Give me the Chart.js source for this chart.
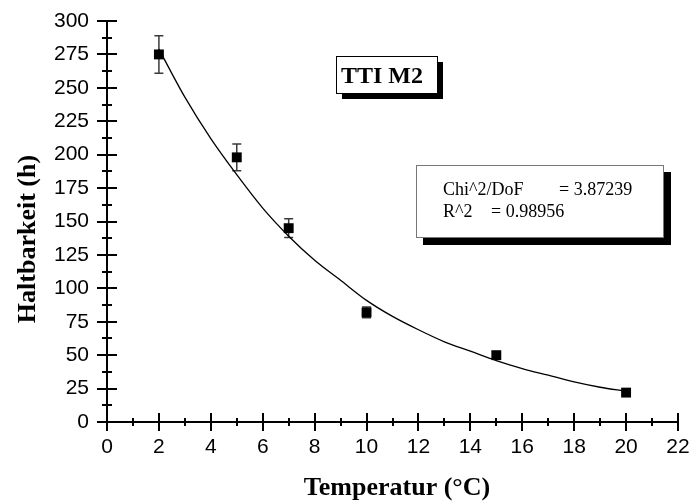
<!DOCTYPE html>
<html>
<head>
<meta charset="utf-8">
<script src="https://cdn.jsdelivr.net/npm/chart.js@4/dist/chart.umd.min.js"></script>
<style>
  html, body { margin: 0; padding: 0; background: #fff; }
  #wrap { width: 693px; height: 504px; }
</style>
</head>
<body>
<div id="wrap"><canvas id="tti_chart" width="693" height="504"></canvas></div>
<script>
// Messwerte
var temps = [2, 5, 7, 10, 15, 20];
var haltbarkeit = [275, 198, 145, 82, 50, 22];
var fehler = [14, 10, 7, 4, 2.5, 1.5];

// Fitkurve
var fitX = [2, 3, 4, 5, 6, 7, 8, 9, 10, 11, 12, 13, 14, 15, 16, 17, 18, 19, 20];
var fitY = [279, 243, 212, 185, 160, 139, 121, 106, 91, 79, 69, 60, 53, 46, 40, 35, 30, 26, 23];

var xTicks = [0, 2, 4, 6, 8, 10, 12, 14, 16, 18, 20, 22];
var yTicks = [0, 25, 50, 75, 100, 125, 150, 175, 200, 225, 250, 275, 300];

var titel = 'TTI M2';
var statZeilen = [['Chi^2/DoF', '= 3.87239'], ['R^2', '= 0.98956']];

var SANS = "'Liberation Sans', Arial, sans-serif";
var SERIF = "'Liberation Serif', 'Times New Roman', serif";

var punkte = temps.map(function(t, i) { return { x: t, y: haltbarkeit[i] }; });
var kurve = fitX.map(function(t, i) { return { x: t, y: fitY[i] }; });

// Fehlerbalken hinter den Punkten
var errorBars = {
    id: 'errorBars',
    beforeDatasetsDraw: function(chart) {
        var ctx = chart.ctx, xs = chart.scales.x, ys = chart.scales.y;
        ctx.save();
        ctx.strokeStyle = '#3a3a3a';
        ctx.lineWidth = 1.5;
        temps.forEach(function(t, i) {
            var px = xs.getPixelForValue(t);
            var top = ys.getPixelForValue(haltbarkeit[i] + fehler[i]);
            var bot = ys.getPixelForValue(haltbarkeit[i] - fehler[i]);
            ctx.beginPath();
            ctx.moveTo(px, top); ctx.lineTo(px, bot);
            ctx.moveTo(px - 4.5, top); ctx.lineTo(px + 4.5, top);
            ctx.moveTo(px - 4.5, bot); ctx.lineTo(px + 4.5, bot);
            ctx.stroke();
        });
        ctx.restore();
    }
};

// Achsenstriche, Achsentitel, Textboxen
var deko = {
    id: 'deko',
    afterDraw: function(chart) {
        var ctx = chart.ctx, xs = chart.scales.x, ys = chart.scales.y;
        var ax = xs.left, ay = ys.bottom;
        ctx.save();
        ctx.strokeStyle = '#000';
        ctx.lineWidth = 2;
        ctx.beginPath();
        for (var v = 0; v <= 300; v += 12.5) {
            var py = Math.round(ys.getPixelForValue(v));
            var len = (v % 25 === 0) ? 10 : 5;
            ctx.moveTo(ax - len, py); ctx.lineTo(ax + len, py);
        }
        for (var t = 0; t <= 22; t += 1) {
            var px = Math.round(xs.getPixelForValue(t));
            var l2 = (t % 2 === 0) ? 9 : 4;
            ctx.moveTo(px, ay - l2); ctx.lineTo(px, ay + l2);
        }
        ctx.stroke();

        // Achsentitel
        ctx.fillStyle = '#000';
        ctx.font = 'bold 26px ' + SERIF;
        ctx.textAlign = 'center';
        ctx.textBaseline = 'alphabetic';
        ctx.fillText('Temperatur (°C)', 397, 495);
        ctx.save();
        ctx.translate(35, 239);
        ctx.rotate(-Math.PI / 2);
        ctx.fillText('Haltbarkeit (h)', 0, 0);
        ctx.restore();

        // Titelbox mit Schatten
        ctx.fillStyle = '#000';
        ctx.fillRect(342, 62, 101, 37);
        ctx.fillStyle = '#fff';
        ctx.fillRect(336, 56, 101, 37);
        ctx.lineWidth = 1;
        ctx.strokeStyle = '#000';
        ctx.strokeRect(336.5, 56.5, 101, 37);
        ctx.fillStyle = '#000';
        ctx.font = 'bold 24px ' + SERIF;
        ctx.textAlign = 'left';
        ctx.fillText(titel, 341, 83);

        // Statistikbox
        ctx.fillStyle = '#000';
        ctx.fillRect(423, 172, 248, 73);
        ctx.fillStyle = '#fff';
        ctx.fillRect(416, 165, 248, 73);
        ctx.strokeStyle = '#777';
        ctx.strokeRect(416.5, 165.5, 247, 72);
        ctx.fillStyle = '#000';
        ctx.font = '18px ' + SERIF;
        ctx.fillText(statZeilen[0][0], 443, 195);
        ctx.fillText(statZeilen[0][1], 559, 195);
        ctx.fillText(statZeilen[1][0], 443, 217);
        ctx.fillText(statZeilen[1][1], 491, 217);
        ctx.restore();
    }
};

document.addEventListener("DOMContentLoaded", function() {
    var ctx = document.getElementById('tti_chart').getContext('2d');

    new Chart(ctx, {
        type: 'scatter',
        data: {
            datasets: [{
                label: 'Fit',
                data: kurve,
                showLine: true,
                borderColor: '#000',
                borderWidth: 1.3,
                pointRadius: 0,
                cubicInterpolationMode: 'monotone',
                fill: false
            }, {
                label: 'Haltbarkeit',
                data: punkte,
                showLine: false,
                pointStyle: 'rect',
                pointRadius: 7,
                backgroundColor: '#000',
                borderColor: '#000',
                borderWidth: 0
            }]
        },
        options: {
            responsive: false,
            animation: false,
            events: [],
            layout: { padding: { top: 21, right: 15, left: 0, bottom: 0 } },
            plugins: {
                legend: { display: false },
                tooltip: { enabled: false }
            },
            scales: {
                x: {
                    type: 'linear',
                    min: 0,
                    max: 22,
                    afterFit: function(scale) {
                        scale.height = 82;
                        scale.paddingLeft = 0;
                        scale.paddingRight = 0;
                    },
                    afterBuildTicks: function(scale) {
                        scale.ticks = xTicks.map(function(v) { return { value: v }; });
                    },
                    grid: { display: false, drawTicks: false },
                    border: { display: true, color: '#000', width: 2 },
                    ticks: {
                        padding: 13,
                        color: '#000',
                        font: { family: SANS, size: 21 }
                    }
                },
                y: {
                    type: 'linear',
                    min: 0,
                    max: 300,
                    afterFit: function(scale) {
                        scale.width = 107;
                        scale.paddingTop = 0;
                        scale.paddingBottom = 0;
                    },
                    afterBuildTicks: function(scale) {
                        scale.ticks = yTicks.map(function(v) { return { value: v }; });
                    },
                    grid: { display: false, drawTicks: false },
                    border: { display: true, color: '#000', width: 2 },
                    ticks: {
                        padding: 18,
                        color: '#000',
                        font: { family: SANS, size: 21 }
                    }
                }
            }
        },
        plugins: [errorBars, deko]
    });
});
</script>
</body>
</html>
